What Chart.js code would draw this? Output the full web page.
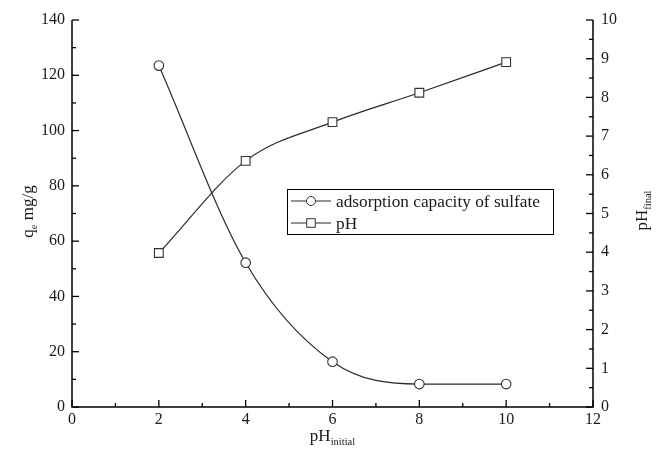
<!DOCTYPE html>
<html><head><meta charset="utf-8">
<script src="https://cdn.jsdelivr.net/npm/chart.js@4.4.1/dist/chart.umd.min.js"></script>
<style>html,body{margin:0;padding:0;background:#fff}#wrap{width:662px;height:459px}</style>
</head><body><div id="wrap"><canvas id="c" width="662" height="459"></canvas></div>
<script>
// ---- data ----
const pHInitial = [2, 4, 6, 8, 10];
const adsorptionCapacity = [123.5, 52.2, 16.4, 8.3, 8.3];
const pHFinal = [3.98, 6.36, 7.36, 8.12, 8.91];
const seriesLabels = ['adsorption capacity of sulfate', 'pH'];
const xTicks = {min: 0, max: 12, step: 2, minor: 1};
const yTicks = {min: 0, max: 140, step: 20, minor: 10};
const y2Ticks = {min: 0, max: 10, step: 1, minor: 0.5};

const FONT = '"Liberation Serif", "Times New Roman", serif';
const INK = '#1a1a1a';
const LINE = '#2a2a2a';

const minorSteps = {x: xTicks.minor, y: yTicks.minor, y2: y2Ticks.minor};

const axesPlugin = {
  id: 'axesPlugin',
  afterDraw(chart) {
    const ctx = chart.ctx, a = chart.chartArea;
    ctx.save();
    ctx.strokeStyle = '#000';
    ctx.lineWidth = 1.5;
    ctx.beginPath();
    ctx.moveTo(a.left, a.top); ctx.lineTo(a.left, a.bottom); ctx.lineTo(a.right, a.bottom); ctx.lineTo(a.right, a.top);
    ctx.stroke();
    ctx.lineWidth = 1.3;
    const major = 7, minor = 4;
    ['x', 'y', 'y2'].forEach(id => {
      const s = chart.scales[id];
      const step = minorSteps[id];
      const majStep = s.ticks.length > 1 ? (s.ticks[1].value - s.ticks[0].value) : step * 2;
      for (let v = s.min; v <= s.max + 1e-9; v += step) {
        const isMajor = Math.abs(v / majStep - Math.round(v / majStep)) < 1e-6;
        const len = isMajor ? major : minor;
        const p = s.getPixelForValue(v);
        ctx.beginPath();
        if (id === 'x') { ctx.moveTo(p, a.bottom); ctx.lineTo(p, a.bottom - len); }
        else if (id === 'y') { ctx.moveTo(a.left, p); ctx.lineTo(a.left + len, p); }
        else { ctx.moveTo(a.right, p); ctx.lineTo(a.right - len, p); }
        ctx.stroke();
      }
    });
    // axis titles with subscripts
    function subTitle(main, sub, tail, cx, cy, rot) {
      ctx.save();
      ctx.translate(cx, cy);
      ctx.rotate(rot);
      ctx.fillStyle = INK;
      ctx.textBaseline = 'alphabetic';
      ctx.font = '17px ' + FONT;
      const w1 = ctx.measureText(main).width;
      ctx.font = '10.5px ' + FONT;
      const w2 = ctx.measureText(sub).width;
      ctx.font = '17px ' + FONT;
      const w3 = tail ? ctx.measureText(tail).width : 0;
      let x = -(w1 + w2 + w3) / 2;
      const base = 6;
      ctx.textAlign = 'left';
      ctx.fillText(main, x, base); x += w1;
      ctx.font = '10.5px ' + FONT;
      ctx.fillText(sub, x, base + 4); x += w2;
      if (tail) { ctx.font = '17px ' + FONT; ctx.fillText(tail, x, base); }
      ctx.restore();
    }
    const cy = (a.top + a.bottom) / 2;
    subTitle('q', 'e', ' mg/g', 27, cy - 2, -Math.PI / 2);
    subTitle('pH', 'final', '', 641, cy - 3, -Math.PI / 2);
    subTitle('pH', 'initial', '', (a.left + a.right) / 2, 435, 0);

    // legend box inside plot
    const ds = chart.data.datasets;
    const bx = 287, by = 189, bw = 266, bh = 45;
    ctx.lineWidth = 1;
    ctx.strokeStyle = '#000';
    ctx.strokeRect(bx + 0.5, by + 0.5, bw, bh);
    ds.forEach((d, i) => {
      const yy = by + 12 + i * 22;
      ctx.strokeStyle = LINE; ctx.lineWidth = 1;
      ctx.beginPath(); ctx.moveTo(bx + 4, yy); ctx.lineTo(bx + 44, yy); ctx.stroke();
      ctx.fillStyle = '#fff';
      ctx.strokeStyle = '#333';
      ctx.beginPath();
      if (d.pointStyle === 'circle') { ctx.arc(bx + 24, yy, 4.5, 0, Math.PI * 2); }
      else { ctx.rect(bx + 24 - 4.3, yy - 4.3, 8.6, 8.6); }
      ctx.fill(); ctx.stroke();
      ctx.fillStyle = INK;
      ctx.font = '17.3px ' + FONT;
      ctx.textBaseline = 'middle';
      ctx.textAlign = 'left';
      ctx.fillText(d.label, bx + 49, yy + 1);
    });
    ctx.restore();
  }
};

new Chart(document.getElementById('c'), {
  type: 'line',
  data: {
    datasets: [
      {
        label: seriesLabels[0],
        data: pHInitial.map((x, i) => ({x, y: adsorptionCapacity[i]})),
        yAxisID: 'y',
        borderColor: LINE, borderWidth: 1.2,
        pointStyle: 'circle', pointRadius: 4.8,
        pointBackgroundColor: '#fff', pointBorderColor: '#333', pointBorderWidth: 1.1,
        cubicInterpolationMode: 'monotone', fill: false
      },
      {
        label: seriesLabels[1],
        data: pHInitial.map((x, i) => ({x, y: pHFinal[i]})),
        yAxisID: 'y2',
        borderColor: LINE, borderWidth: 1.2,
        pointStyle: 'rect', pointRadius: 6.2,
        pointBackgroundColor: '#fff', pointBorderColor: '#333', pointBorderWidth: 1.1,
        cubicInterpolationMode: 'monotone', fill: false
      }
    ]
  },
  options: {
    responsive: false,
    devicePixelRatio: 1,
    animation: false,
    layout: {padding: {top: 20, left: 0, right: 0, bottom: 0}},
    plugins: {legend: {display: false}, tooltip: {enabled: false}},
    scales: {
      x: {
        type: 'linear', position: 'bottom', min: xTicks.min, max: xTicks.max,
        ticks: {stepSize: xTicks.step, color: INK, font: {family: FONT, size: 16}, padding: 3, maxRotation: 0},
        grid: {display: false, drawTicks: false}, border: {display: false},
        afterFit(s) { s.height = 52; }
      },
      y: {
        type: 'linear', position: 'left', min: yTicks.min, max: yTicks.max,
        ticks: {stepSize: yTicks.step, color: INK, font: {family: FONT, size: 16}, padding: 7},
        grid: {display: false, drawTicks: false}, border: {display: false},
        afterFit(s) { s.width = 72; }
      },
      y2: {
        type: 'linear', position: 'right', min: y2Ticks.min, max: y2Ticks.max,
        ticks: {stepSize: y2Ticks.step, color: INK, font: {family: FONT, size: 16}, padding: 8},
        grid: {display: false, drawTicks: false}, border: {display: false},
        afterFit(s) { s.width = 69; }
      }
    }
  },
  plugins: [axesPlugin]
});
</script>
</body></html>
